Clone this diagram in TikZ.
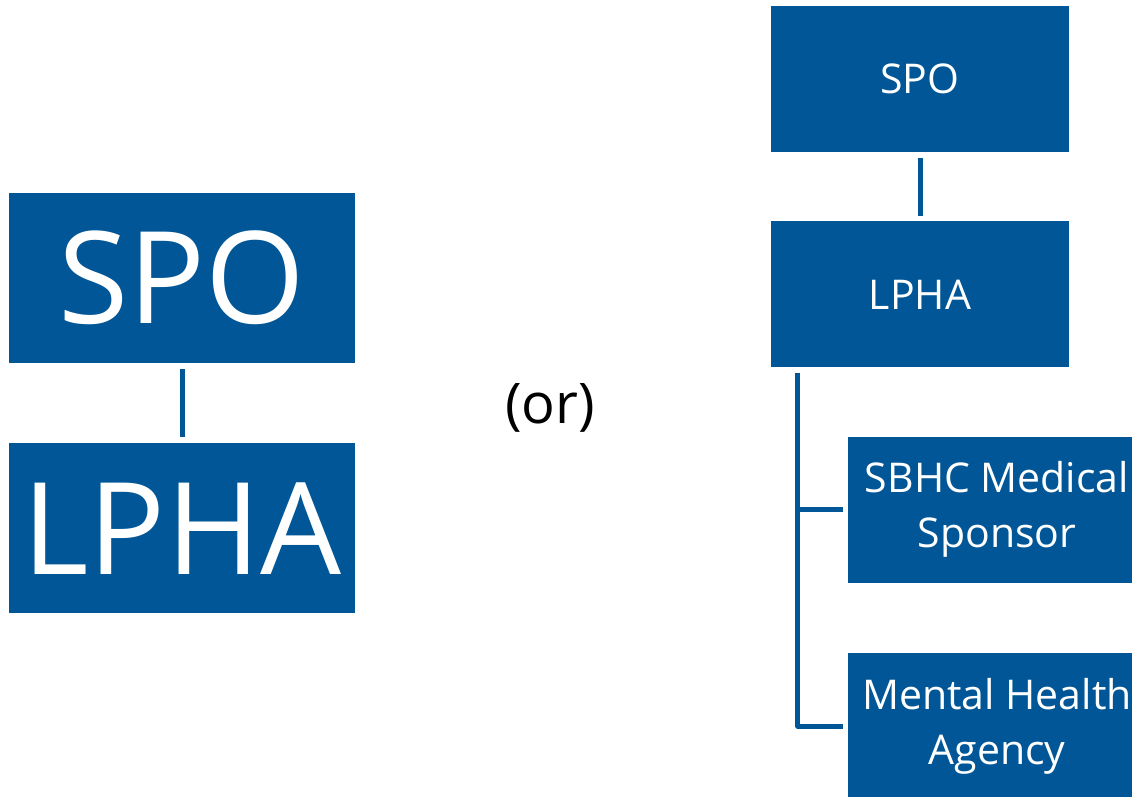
\documentclass[tikz,border=0pt]{standalone}
\usepackage{fontspec}
\setmainfont{Open Sans}
\usetikzlibrary{positioning}
\definecolor{orgblue}{RGB}{0,86,150}

\begin{document}
\begin{tikzpicture}[
    x = 1pt, y = -1pt,
    node distance = 80pt and 2pt,
    bigbox/.style   = {fill=orgblue,
                       text=white,
                       minimum width=346pt,
                       minimum height=170pt,
                       inner sep=0pt,
                       font=\fontsize{128}{140}\selectfont},
    smallbox/.style = {fill=orgblue,
                       text=white,
                       minimum width=298pt,
                       minimum height=146pt,
                       inner sep=0pt,
                       align=center,
                       font=\fontsize{41}{55}\selectfont},
    conn/.style     = {draw=orgblue,
                       line width=5pt}
]
\useasboundingbox (0,0) rectangle (1132,796);

\node (spoL) [bigbox] at (182,278) {SPO};
\node (lphaL) [bigbox, below=of spoL] {LPHA};

\draw[conn, shorten <=6pt, shorten >=6pt] (spoL) -- (lphaL);

\node (orN) [font=\fontsize{56}{60}\selectfont] at (550,408) {(or)};

\node (spoR) [smallbox] at (920,79) {SPO};
\node (lphaR) [smallbox, below=69pt of spoR] {LPHA};
\node (sbhc) [smallbox, below=69pt of lphaR, xshift=77pt] {SBHC Medical\\Sponsor};
\node (mha) [smallbox, below=70pt of sbhc] {Mental Health\\Agency};

\coordinate (trunk) at ([xshift=27pt, yshift=-5pt]lphaR.south west);

\draw[conn, shorten <=6pt, shorten >=5pt] (spoR) -- (lphaR);
\draw[conn, line join=round] (trunk) |- ([xshift=-5pt]mha.west);
\draw[conn] (trunk |- sbhc.west) -- ([xshift=-5pt]sbhc.west);

\end{tikzpicture}
\end{document}
